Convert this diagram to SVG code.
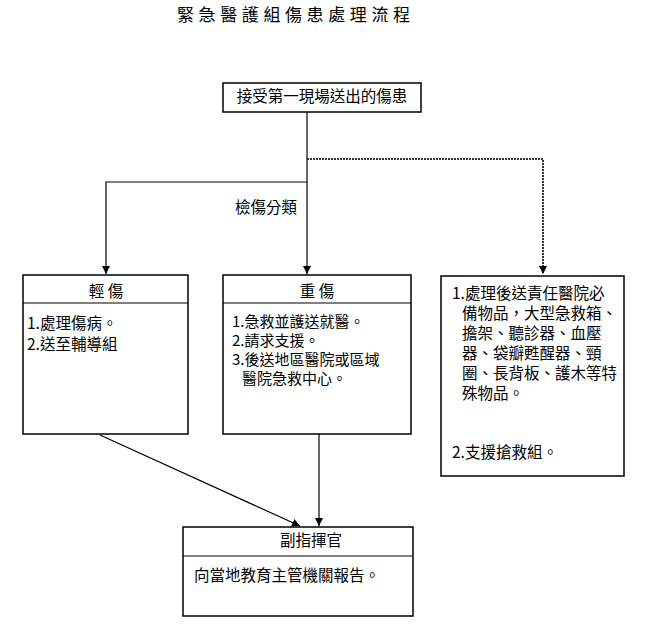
<svg xmlns="http://www.w3.org/2000/svg" width="655" height="631" viewBox="0 0 655 631">
<style>
.box{fill:#fff;stroke:#000;stroke-width:1.5}
.ln{fill:none;stroke:#000;stroke-width:1.2}
.dot{fill:none;stroke:#333;stroke-width:2;stroke-dasharray:2 1}
text{font-family:"Noto Sans CJK TC","Noto Sans CJK SC",sans-serif;font-size:15.5px;fill:#000}
.c{text-anchor:middle}
.title{font-size:17px;letter-spacing:4.6px}
.sm{font-size:15px}
</style>
<defs>
<marker id="ah" viewBox="0 0 10 10" refX="10" refY="5" markerWidth="8" markerHeight="8" markerUnits="userSpaceOnUse" orient="auto">
<path d="M0,0 L10,5 L0,10 Z" fill="#000"/>
</marker>
</defs>
<rect width="655" height="631" fill="#fff"/>
<text id="title" x="177" y="21" class="title">緊急醫護組傷患處理流程</text>

<g id="connectors">
<line class="ln" x1="307" y1="112" x2="307" y2="274" marker-end="url(#ah)"/>
<polyline class="ln" points="307,182 106,182 106,274" marker-end="url(#ah)"/>
<polyline class="dot" points="307,159 543,159 543,274" marker-end="url(#ah)"/>
<line class="ln" x1="100" y1="435" x2="300" y2="526" marker-end="url(#ah)"/>
<line class="ln" x1="319" y1="434" x2="319" y2="526" marker-end="url(#ah)"/>
<text x="235" y="213">檢傷分類</text>
</g>

<g id="start">
<rect class="box" x="223" y="83" width="198" height="29"/>
<text class="c" x="322" y="102">接受第一現場送出的傷患</text>
</g>

<g id="minor">
<rect class="box" x="23" y="275" width="165" height="159"/>
<line class="ln" x1="23" y1="303" x2="188" y2="303"/>
<text class="c" x="106" y="297" xml:space="preserve">輕 傷</text>
<text x="27" y="329">1.處理傷病。<tspan x="27" dy="21">2.送至輔導組</tspan></text>
</g>

<g id="severe">
<rect class="box" x="223" y="275" width="188" height="159"/>
<line class="ln" x1="223" y1="303" x2="411" y2="303"/>
<text class="c" x="317" y="297" xml:space="preserve">重 傷</text>
<text class="sm" x="232" y="327">1.急救並護送就醫。</text>
<text class="sm" x="232" y="346">2.請求支援。</text>
<text class="sm" x="232" y="365">3.後送地區醫院或區域</text>
<text class="sm" x="242" y="384">醫院急救中心。</text>
</g>

<g id="support">
<rect class="box" x="441" y="276" width="183" height="200"/>
<text x="452" y="299">1.處理後送責任醫院必<tspan x="462" dy="20">備物品，大型急救箱、</tspan><tspan x="462" dy="20">擔架、聽診器、血壓</tspan><tspan x="462" dy="20">器、袋瓣甦醒器、頸</tspan><tspan x="462" dy="20">圈、長背板、護木等特</tspan><tspan x="462" dy="20">殊物品。</tspan></text>
<text x="452" y="458">2.支援搶救組。</text>
</g>

<g id="deputy">
<rect class="box" x="183" y="527" width="230" height="89"/>
<line class="ln" x1="183" y1="556" x2="413" y2="556"/>
<text class="c" x="311" y="546">副指揮官</text>
<text x="194" y="581">向當地教育主管機關報告。</text>
</g>
</svg>
